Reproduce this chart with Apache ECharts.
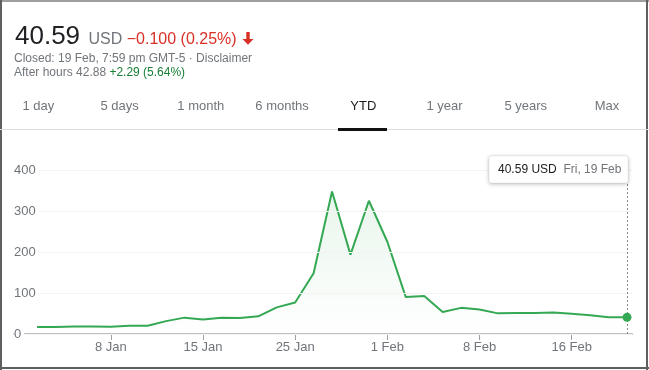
<!DOCTYPE html>
<html>
<head>
<meta charset="utf-8">
<script src="https://cdn.jsdelivr.net/npm/echarts@6/dist/echarts.min.js"></script>
<style>
  html, body { margin:0; padding:0; background:#fff; }
  body { width:649px; height:370px; position:relative; overflow:hidden; font-family:"Liberation Sans", Arial, sans-serif; }
  .abs { position:absolute; white-space:nowrap; }
  #chart { position:absolute; left:0; top:0; width:649px; height:370px; }
  .tab { position:absolute; top:98px; font-size:13px; color:#70757a; transform:translateX(-50%); line-height:16px; }
  .tab.sel { color:#202124; }
</style>
</head>
<body>
<div id="chart"></div>

<div class="abs" style="left:0;top:0;width:649px;height:2px;background:#9e9e9e;"></div>
<div class="abs" style="left:0;top:0;width:2px;height:370px;background:#5f5f5f;"></div>
<div class="abs" style="left:646px;top:0;width:2px;height:370px;background:#5f5f5f;"></div>
<div class="abs" style="left:0;top:367px;width:649px;height:2px;background:#5f5f5f;"></div>

<div class="abs" style="left:15px;top:20px;line-height:30px;">
  <span style="font-size:26px;color:#202124;">40.59</span>
  <span style="font-size:16px;color:#70757a;margin-left:4px;">USD</span>
  <span style="font-size:16px;color:#d93025;">&minus;0.100 (0.25%)</span>
  <svg width="12" height="13" viewBox="0 0 12 13" style="vertical-align:-1px;margin-left:1px;"><path d="M4.3 0 H7.7 V7 H11.5 L6 12.8 L0.5 7 H4.3 Z" fill="#d93025"/></svg>
</div>
<div class="abs" style="left:14px;top:51px;font-size:12px;color:#70757a;line-height:14px;">Closed: 19 Feb, 7:59 pm GMT-5 · Disclaimer</div>
<div class="abs" style="left:14px;top:65px;font-size:12px;color:#70757a;line-height:14px;">After hours 42.88 <span style="color:#188038;">+2.29 (5.64%)</span></div>

<div id="tabs"></div>
<div class="abs" style="left:0;top:129px;width:649px;height:1px;background:#dadce0;"></div>
<div class="abs" style="left:338px;top:128px;width:49px;height:3px;background:#111;"></div>

<script>
// ---- data ----
const tabs = ["1 day", "5 days", "1 month", "6 months", "YTD", "1 year", "5 years", "Max"];
const dates = ["4 Jan","5 Jan","6 Jan","7 Jan","8 Jan","11 Jan","12 Jan","13 Jan","14 Jan","15 Jan",
  "19 Jan","20 Jan","21 Jan","22 Jan","25 Jan","26 Jan","27 Jan","28 Jan","29 Jan",
  "1 Feb","2 Feb","3 Feb","4 Feb","5 Feb","8 Feb","9 Feb","10 Feb","11 Feb","12 Feb",
  "16 Feb","17 Feb","18 Feb","19 Feb"];
const prices = [17.25, 17.37, 18.36, 18.08, 17.69, 19.94, 19.95, 31.40, 39.91, 35.50,
  39.36, 39.12, 43.03, 65.01, 76.79, 147.98, 347.51, 193.60, 325.00,
  225.00, 90.00, 92.41, 53.50, 63.77, 60.00, 50.31, 51.20, 51.10, 52.40,
  49.51, 45.94, 40.69, 40.59];
const xTickLabels = ["8 Jan", "15 Jan", "25 Jan", "1 Feb", "8 Feb", "16 Feb"];
const yTicks = [0, 100, 200, 300, 400];
const tipValue = "40.59 USD";
const tipDate = "Fri, 19 Feb";

// tabs
const tabCenters = tabs.map((t, i) => 38.3 + i * 81.25);
const tabsEl = document.getElementById('tabs');
tabs.forEach((t, i) => {
  const d = document.createElement('div');
  d.className = 'tab' + (t === 'YTD' ? ' sel' : '');
  d.style.left = tabCenters[i] + 'px';
  d.textContent = t;
  tabsEl.appendChild(d);
});

const tickIdx = xTickLabels.map(l => dates.indexOf(l));
const seriesData = prices.map((v, i) => [i, v]);
const lastIdx = prices.length - 1;
const green = '#34a853';

const chart = echarts.init(document.getElementById('chart'), null, { renderer: 'canvas' });
chart.setOption({
  animation: false,
  grid: { left: 14, right: 17, top: 170, bottom: 36 },
  xAxis: {
    type: 'value', min: -1.25, max: 32.27, z: 0,
    axisLine: { show: true, lineStyle: { color: '#bdc1c6', width: 2 } },
    axisTick: { show: true, customValues: tickIdx, length: 6, lineStyle: { color: '#9aa0a6', width: 1 } },
    axisLabel: { customValues: tickIdx, formatter: v => dates[v], color: '#70757a', fontSize: 13,
                 fontFamily: 'Liberation Sans', margin: 7 },
    splitLine: { show: false }
  },
  yAxis: {
    type: 'value', min: yTicks[0], max: yTicks[yTicks.length - 1], interval: 100, z: 3,
    axisLine: { show: false }, axisTick: { show: false },
    axisLabel: { inside: true, margin: 0, color: '#70757a', fontSize: 13, fontFamily: 'Liberation Sans',
                 backgroundColor: '#fff', padding: [0, 3, 0, 0] },
    splitLine: { lineStyle: { color: '#f3f3f3', width: 1 } }
  },
  series: [{
    type: 'line', data: seriesData, symbol: 'none', z: 2,
    lineStyle: { color: green, width: 2 },
    areaStyle: { color: new echarts.graphic.LinearGradient(0, 0, 0, 1, [
      { offset: 0, color: 'rgba(52,168,83,0.16)' },
      { offset: 1, color: 'rgba(52,168,83,0)' }
    ]) },
    markLine: {
      silent: true, symbol: 'none', label: { show: false },
      lineStyle: { color: '#8a8a8a', type: [2, 2], width: 1 },
      data: [{ xAxis: lastIdx }]
    },
    markPoint: {
      silent: true, symbol: 'circle', symbolSize: 9, label: { show: false },
      itemStyle: { color: green },
      data: [{ coord: [lastIdx, prices[lastIdx]] }]
    }
  }]
});

// tooltip-like box anchored to the last point
const px = chart.convertToPixel({ gridIndex: 0 }, [lastIdx, yTicks[yTicks.length - 1]]);
const boxW = 139, boxH = 27;
const bx = px[0] + 1 - boxW, by = px[1] - 14;
chart.setOption({
  graphic: [
    { type: 'rect', z: 100, zlevel: 0, x: bx, y: by, shape: { x: 0, y: 0, width: boxW, height: boxH, r: 2 },
      style: { fill: '#ffffff', stroke: 'rgba(0,0,0,0.06)', lineWidth: 1,
               shadowBlur: 4, shadowColor: 'rgba(0,0,0,0.28)', shadowOffsetY: 1 } },
    { type: 'text', z: 101, zlevel: 0, x: bx + 9, y: by + boxH / 2,
      style: { text: '{a|' + tipValue + '}  {b|' + tipDate + '}', verticalAlign: 'middle',
        rich: { a: { fontSize: 12, fill: '#202124', fontFamily: 'Liberation Sans' },
                b: { fontSize: 12, fill: '#70757a', fontFamily: 'Liberation Sans' } } } }
  ]
});
</script>
</body>
</html>
